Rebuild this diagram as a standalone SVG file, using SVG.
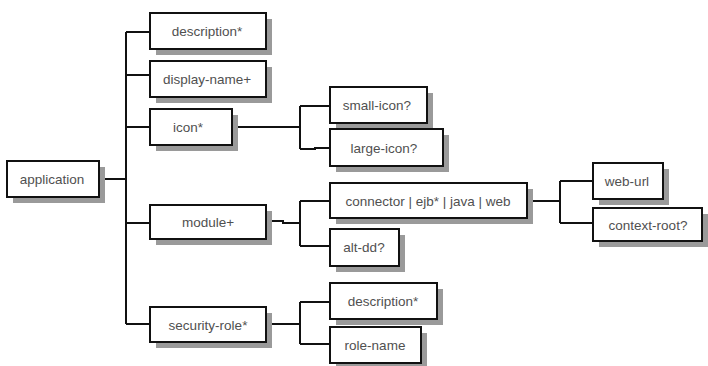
<svg xmlns="http://www.w3.org/2000/svg" width="708" height="366" viewBox="0 0 708 366">
<style>
.sh{fill:#9a9a9a}
.bx{fill:#fff;stroke:#111;stroke-width:2}
.t{font-family:"Liberation Sans",Arial,sans-serif;font-size:13.5px;fill:#505050;text-anchor:middle;dominant-baseline:central}
.c{fill:none;stroke:#111;stroke-width:2}
</style>
<rect width="708" height="366" fill="#fff"/>
<g id="connectors">
<path class="c" d="M99,179H126M126,32V324M126,32H150M126,75H150M126,127H150M126,223H150M126,324H150"/>
<path class="c" d="M232,127H300M300,106V149M300,106H330M300,149H315V148H330"/>
<path class="c" d="M266,221H283V223H300M300,201V246M300,201H330M300,246H330"/>
<path class="c" d="M527,201H560M560,181V223M560,181H593M560,223H593"/>
<path class="c" d="M266,324H300M300,302V344M300,302H330M300,344H330"/>
</g>
<g id="application"><rect class="sh" x="13" y="167" width="92" height="36"/><rect class="bx" x="7" y="161" width="92" height="36"/><text class="t" x="52" y="179">application</text></g>
<g id="description1"><rect class="sh" x="156" y="19" width="116" height="36"/><rect class="bx" x="150" y="13" width="116" height="36"/><text class="t" x="207" y="31">description*</text></g>
<g id="display-name"><rect class="sh" x="156" y="67" width="116" height="36"/><rect class="bx" x="150" y="61" width="116" height="36"/><text class="t" x="207" y="79">display-name+</text></g>
<g id="icon"><rect class="sh" x="156" y="115" width="82" height="36"/><rect class="bx" x="150" y="109" width="82" height="36"/><text class="t" x="188" y="127">icon*</text></g>
<g id="module"><rect class="sh" x="156" y="211" width="116" height="34"/><rect class="bx" x="150" y="205" width="116" height="34"/><text class="t" x="208" y="222">module+</text></g>
<g id="security-role"><rect class="sh" x="156" y="313" width="116" height="35"/><rect class="bx" x="150" y="307" width="116" height="35"/><text class="t" x="208" y="325">security-role*</text></g>
<g id="small-icon"><rect class="sh" x="336" y="93" width="97" height="36"/><rect class="bx" x="330" y="87" width="97" height="36"/><text class="t" x="377" y="105">small-icon?</text></g>
<g id="large-icon"><rect class="sh" x="336" y="135" width="113" height="37"/><rect class="bx" x="330" y="129" width="113" height="37"/><text class="t" x="384" y="148">large-icon?</text></g>
<g id="connector"><rect class="sh" x="336" y="189" width="197" height="35"/><rect class="bx" x="330" y="183" width="197" height="35"/><text class="t" x="428" y="201">connector | ejb* | java | web</text></g>
<g id="alt-dd"><rect class="sh" x="336" y="235" width="69" height="37"/><rect class="bx" x="330" y="229" width="69" height="37"/><text class="t" x="364" y="247">alt-dd?</text></g>
<g id="description2"><rect class="sh" x="336" y="289" width="107" height="36"/><rect class="bx" x="330" y="283" width="107" height="36"/><text class="t" x="383" y="301">description*</text></g>
<g id="role-name"><rect class="sh" x="336" y="333" width="91" height="36"/><rect class="bx" x="330" y="327" width="91" height="36"/><text class="t" x="375" y="345">role-name</text></g>
<g id="web-url"><rect class="sh" x="599" y="169" width="70" height="36"/><rect class="bx" x="593" y="163" width="70" height="36"/><text class="t" x="627" y="181">web-url</text></g>
<g id="context-root"><rect class="sh" x="599" y="214" width="109" height="33"/><rect class="bx" x="593" y="208" width="109" height="33"/><text class="t" x="648" y="225">context-root?</text></g>
</svg>
